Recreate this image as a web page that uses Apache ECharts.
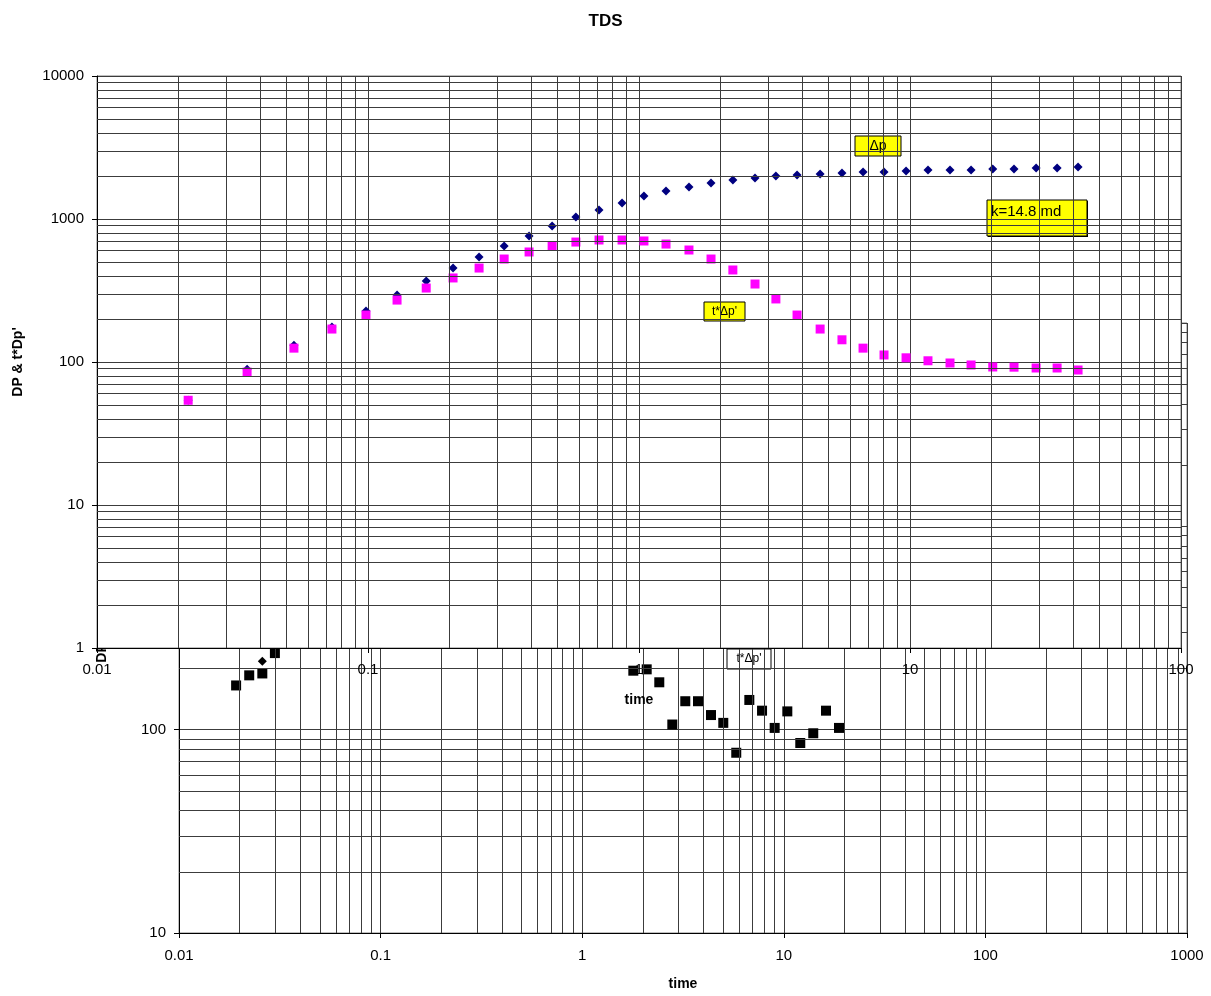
<!DOCTYPE html>
<html>
<head>
<meta charset="utf-8">
<script src="https://cdn.jsdelivr.net/npm/echarts@6/dist/echarts.min.js"></script>
<style>
  html, body { margin:0; padding:0; background:#fff; }
  #wrap { position:relative; width:1211px; height:996px; }
  #bottom, #top { position:absolute; left:0; top:0; width:1211px; height:996px; }
</style>
</head>
<body>
<div id="wrap"><div id="bottom"></div><div id="top"></div></div>
<script>
// ---------- Data: main (front) chart ----------
const topTime = [0.0217, 0.0358, 0.0533, 0.0736, 0.0983, 0.128, 0.164, 0.206, 0.257, 0.318,
  0.393, 0.478, 0.585, 0.712, 0.866, 1.043, 1.258, 1.529, 1.844, 2.22,
  2.68, 3.20, 3.83, 4.66, 5.61, 6.71, 8.02, 9.67, 11.65, 14.05,
  16.8, 20.2, 24.2, 29.2, 34.9, 41.7];
const topDp = [54, 89, 131, 176, 227, 294, 368, 454, 542, 647,
  761, 893, 1033, 1156, 1295, 1449, 1570, 1675, 1787, 1875,
  1937, 2000, 2033, 2066, 2100, 2134, 2134, 2168, 2200, 2200,
  2200, 2238, 2238, 2274, 2274, 2311];
const topDeriv = [54, 85, 125, 170, 213, 271, 329, 387, 454, 525,
  588, 647, 690, 713, 713, 702, 668, 607, 525, 440,
  351, 276, 213, 170, 143, 125, 112, 107, 102, 98.4,
  95.3, 92.3, 92, 90.8, 90.8, 87.9];

// ---------- Data: chart behind (partly hidden) ----------
const backTime = [0.0192, 0.0223, 0.0259, 0.0299, 0.0402, 1.557, 1.793, 2.089, 2.412, 2.799,
  3.246, 3.753, 4.355, 5.01, 5.81, 6.745, 7.80, 9.01, 10.41, 12.07,
  14.0, 16.19, 18.79];
const backDeriv = [165, 185, 189, 238, 264, 264, 195, 198, 171, 106,
  138, 138, 118, 108, 77, 140, 124, 102, 123, 86,
  96, 124, 102];
const backDpTime = [0.0259];
const backDp = [217];

// ---------- Axis ticks ----------
const topXTicks = [0.01, 0.1, 1, 10, 100];
const topYTicks = [1, 10, 100, 1000, 10000];
const backXTicks = [0.01, 0.1, 1, 10, 100, 1000];
const backYTicks = [10, 100, 1000, 10000];
const minorMult = [2, 3, 4, 5, 6, 7, 8, 9];

const FONT = "'Liberation Sans', Arial, sans-serif";
const GRID = '#3c3c3c';

function minors(ticks) {
  const out = [];
  for (let i = 0; i < ticks.length - 1; i++)
    for (const m of minorMult) out.push(+(ticks[i] * m).toPrecision(4));
  return out;
}
const fmt = v => String(+(+v).toPrecision(6));

function gridSeries(xTicks, yTicks) {
  const data = minors(xTicks).map(v => ({ xAxis: v }))
    .concat(minors(yTicks).map(v => ({ yAxis: v })));
  return {
    type: 'scatter', data: [], z: 1, silent: true,
    markLine: {
      silent: true, symbol: ['none', 'none'], animation: false,
      label: { show: false },
      lineStyle: { type: 'solid', color: GRID, width: 1 },
      emphasis: { disabled: true },
      data: data
    }
  };
}

function axis(kind, ticks, name, nameGap, labelMargin) {
  return {
    type: 'log', logBase: 10, min: ticks[0], max: ticks[ticks.length - 1],
    name: name, nameLocation: 'middle', nameGap: nameGap,
    nameTextStyle: { fontFamily: FONT, fontWeight: 'bold', fontSize: 14, color: '#000' },
    axisLine: { show: true, onZero: false, lineStyle: { color: '#000', width: 1 } },
    axisTick: { show: true, inside: false, length: 5, lineStyle: { color: '#000' } },
    axisLabel: { margin: labelMargin, fontFamily: FONT, fontSize: 15, color: '#000', formatter: fmt },
    splitLine: { show: true, lineStyle: { color: GRID, width: 1 } },
    minorTick: { show: false }, minorSplitLine: { show: false }
  };
}

// ---------- Back chart ----------
const back = echarts.init(document.getElementById('bottom'));
back.setOption({
  animation: false,
  backgroundColor: '#fff',
  grid: { left: 179, right: 24, top: 323, bottom: 61, show: true, borderColor: '#808080', borderWidth: 1 },
  xAxis: axis('x', backXTicks, 'time', 44, 15),
  yAxis: axis('y', backYTicks, "DP & t*Dp'", 70, 13),
  graphic: [{
    type: 'group', z: 50,
    children: [
      { type: 'rect', shape: { x: 727, y: 649, width: 44, height: 20 },
        style: { fill: '#fff', stroke: '#000', lineWidth: 1 } },
      { type: 'text', style: { text: "t*\u0394p'", x: 749, y: 659, textAlign: 'center', textVerticalAlign: 'middle',
        font: '12px ' + FONT, fill: '#000' } }
    ]
  }],
  series: [
    gridSeries(backXTicks, backYTicks),
    { type: 'scatter', z: 3, symbol: 'diamond', symbolSize: 9, itemStyle: { color: '#000', opacity: 1 },
      data: backDpTime.map((t, i) => [t, backDp[i]]) },
    { type: 'scatter', z: 4, symbol: 'rect', symbolSize: 10, itemStyle: { color: '#000', opacity: 1 },
      data: backTime.map((t, i) => [t, backDeriv[i]]) }
  ]
});

// ---------- Front chart ----------
const front = echarts.init(document.getElementById('top'));
front.setOption({
  animation: false,
  backgroundColor: 'transparent',
  title: { text: 'TDS', left: 'center', top: 8,
    textStyle: { fontFamily: FONT, fontWeight: 'bold', fontSize: 17, color: '#000' } },
  grid: { left: 97, right: 30, top: 76, bottom: 348, show: true, borderColor: '#808080', borderWidth: 1 },
  xAxis: axis('x', topXTicks, 'time', 45, 14),
  yAxis: axis('y', topYTicks, "DP & t*Dp'", 72, 13),
  graphic: [
    { type: 'rect', z: -100, silent: true, shape: { x: 0, y: 0, width: 1182, height: 648 }, style: { fill: '#fff' } },
    { type: 'group', z: 50, children: [
      { type: 'rect', shape: { x: 855, y: 136, width: 46, height: 20 }, style: { fill: '#ffff00', stroke: '#000', lineWidth: 1 } },
      { type: 'text', style: { text: '\u0394p', x: 878, y: 146, textAlign: 'center', textVerticalAlign: 'middle', font: '14px ' + FONT, fill: '#000' } },
      { type: 'rect', shape: { x: 988, y: 201, width: 100, height: 36 }, style: { fill: '#000' } },
      { type: 'rect', shape: { x: 987, y: 200, width: 100, height: 36 }, style: { fill: '#ffff00', stroke: '#000', lineWidth: 1 } },
      { type: 'text', style: { text: 'k=14.8 md', x: 991, y: 204, textAlign: 'left', textVerticalAlign: 'top', font: '15px ' + FONT, fill: '#000' } },
      { type: 'rect', shape: { x: 704, y: 302, width: 41, height: 19 }, style: { fill: '#ffff00', stroke: '#000', lineWidth: 1 } },
      { type: 'text', style: { text: "t*\u0394p'", x: 724.5, y: 311.5, textAlign: 'center', textVerticalAlign: 'middle', font: '12px ' + FONT, fill: '#000' } }
    ] }
  ],
  series: [
    gridSeries(topXTicks, topYTicks),
    { type: 'scatter', z: 3, symbol: 'diamond', symbolSize: 9, itemStyle: { color: '#000080', opacity: 1 },
      data: topTime.map((t, i) => [t, topDp[i]]) },
    { type: 'scatter', z: 4, symbol: 'rect', symbolSize: 9, itemStyle: { color: '#ff00ff', opacity: 1 },
      data: topTime.map((t, i) => [t, topDeriv[i]]) }
  ]
});
</script>
</body>
</html>
